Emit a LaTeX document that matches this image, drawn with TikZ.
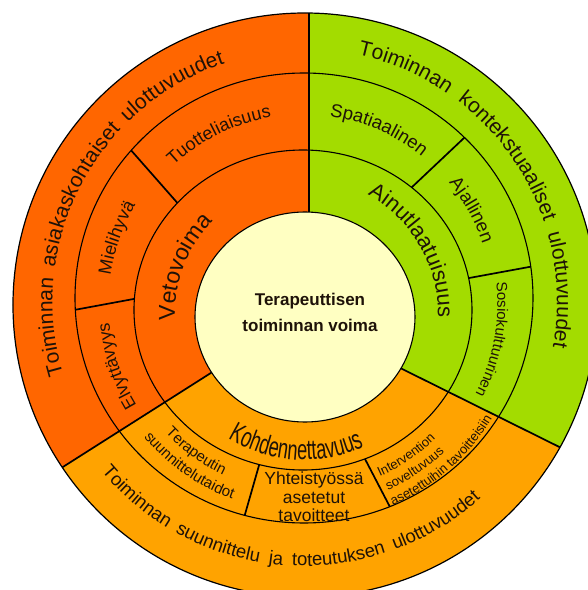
\documentclass[tikz,border=0pt]{standalone}
\usepackage{fontspec}
\setmainfont{Liberation Sans}
\newfontfamily\narrowsans[FakeStretch=0.65]{Liberation Sans}
\usetikzlibrary{calc,decorations.text}
\definecolor{vetoorange}{HTML}{FF6600}
\definecolor{kontgreen}{HTML}{A3DC00}
\definecolor{kohdamber}{HTML}{FFA300}
\definecolor{corecream}{HTML}{FFFFC2}
\definecolor{ink}{HTML}{1E1208}
\tikzset{
  x=1pt,y=1pt,
  rim/.style={draw=black,line width=1.2pt},
  ring/.style={draw=black,line width=1.1pt},
  divider/.style={draw=black,line width=1.7pt},
  corelbl/.style={font=\bfseries\fontsize{17}{26}\selectfont,align=center,text=ink},
  boxlbl/.style={font=\fontsize{17.5}{18.5}\selectfont,align=center,text=ink},
}
% curved labels: centre, baseline radius, angle(s), size, text
\newcommand{\cwlabel}[5]{%
  \path[decorate,decoration={text along path,text align=center,text color=ink,
      text={|\fontsize{#4}{#4}\selectfont|#5}}]
    (#1) ++(#3+50:#2pt) arc[start angle=#3+50,end angle=#3-50,radius=#2pt];}
\newcommand{\ccwlabel}[5]{%
  \path[decorate,decoration={text along path,text align=center,text color=ink,
      text={|\fontsize{#4}{#4}\selectfont|#5}}]
    (#1) ++(#3-50:#2pt) arc[start angle=#3-50,end angle=#3+50,radius=#2pt];}
\newcommand{\ccwleft}[5]{%
  \path[decorate,decoration={text along path,text color=ink,
      text={|\fontsize{#4}{#4}\selectfont|#5}}]
    (#1) ++(#3:#2pt) arc[start angle=#3,end angle=#3+60,radius=#2pt];}
\newcommand{\fitlabel}[6]{%
  \path[decorate,decoration={text along path,text align={fit to path stretching spaces},
      text color=ink,text={|\fontsize{#5}{#5}\selectfont|#6}}]
    (#1) ++(#3:#2pt) arc[start angle=#3,end angle=#4,radius=#2pt];}

\begin{document}
\begin{tikzpicture}
  \useasboundingbox (-300,-289) rectangle (288,301);
  \coordinate (rimc) at (5,-4);
  \coordinate (ringA) at (4,3);
  \coordinate (ringB) at (3,-9);
  \coordinate (corec) at (5,-16);
  \coordinate (tcout) at (4,-1);
  \coordinate (tcmid) at (3,-3);
  \coordinate (tcin) at (4,-12);
  % main dividers, inner ends hidden under the core
  \coordinate (topin) at (9,80);
  \coordinate (topout) at (9,330);
  \coordinate (leftin) at (-75,-63);
  \coordinate (leftout) at (-330,-225);
  \coordinate (rightin) at (72,-53);
  \coordinate (rightout) at (340,-186);

  \begin{scope}
    \clip (rimc) circle[radius=292pt];
    \fill[kohdamber] (rimc) circle[radius=292pt];
    \fill[vetoorange] (topout) -- (topin) -- (leftin) -- (leftout) -- (-330,330) -- cycle;
    \fill[kontgreen] (topout) -- (topin) -- (rightin) -- (rightout) -- (340,330) -- cycle;
    \draw[divider] (topout) -- (topin);
    \draw[divider] (leftout) -- (leftin);
    \draw[divider] (rightout) -- (rightin);
  \end{scope}

  \draw[ring] (ringA) ellipse[x radius=229pt,y radius=225pt];
  \draw[ring] (ringB) ellipse[x radius=169pt,y radius=160pt];

  % sub-dimension dividers between the two rings
  \draw[divider] ($(ringA)+(139:229pt and 225pt)$) -- ($(ringB)+(138:169pt and 160pt)$);
  \draw[divider] ($(ringA)+(183:229pt and 225pt)$) -- ($(ringB)+(176:169pt and 160pt)$);
  \draw[divider] ($(ringA)+(45.5:229pt and 225pt)$) -- ($(ringB)+(50:169pt and 160pt)$);
  \draw[divider] ($(ringA)+(8:229pt and 225pt)$) -- ($(ringB)+(11.5:169pt and 160pt)$);
  \draw[divider] ($(ringA)+(255:229pt and 225pt)$) -- ($(ringB)+(255:169pt and 160pt)$);
  \draw[divider] ($(ringA)+(292:229pt and 225pt)$) -- ($(ringB)+(291.5:169pt and 160pt)$);

  \draw[ring,fill=corecream] (corec) ellipse[x radius=110pt,y radius=105pt];
  \draw[rim] (rimc) circle[radius=292pt];

  \node[corelbl] (core) at (10,-11) {Terapeuttisen\\toiminnan voima};

  % outer band
  \fitlabel{tcout}{251.5}{196.8}{108.4}{21}{Toiminnan asiakaskohtaiset ulottuvuudet}
  \fitlabel{tcout}{253}{77.7}{-10.2}{21}{Toiminnan kontekstuaaliset ulottuvuudet}
  \fitlabel{tcout}{264}{220}{312}{18.5}{Toiminnan suunnittelu ja toteutuksen ulottuvuudet}

  % middle band
  \cwlabel{tcmid}{189.5}{116.4}{18}{Tuotteliaisuus}
  \cwlabel{tcmid}{194.5}{160.5}{18}{Mielihyvä}
  \cwlabel{tcmid}{194.5}{198.4}{17.5}{Elvyttävyys}
  \cwlabel{tcmid}{189.5}{66.5}{18.5}{Spatiaalinen}
  \cwlabel{tcmid}{189.5}{29.1}{18.5}{Ajallinen}
  \cwlabel{tcmid}{194.5}{-10.6}{15}{Sosiokulttuurinen}
  \ccwlabel{tcmid}{188.5}{234}{15}{Terapeutin}
  \ccwlabel{tcmid}{207.5}{235}{15}{suunnittelutaidot}
  \node[boxlbl] (yhteis) at (14,-196) {Yhteistyössä\\asetetut\\tavoitteet};
  \ccwleft{tcmid}{189}{294}{13}{Intervention}
  \ccwleft{tcmid}{205}{294.5}{13}{soveltuvuus}
  \ccwleft{tcmid}{221}{294}{13}{asetettuihin tavoitteisiin}

  % inner band
  \cwlabel{tcin}{129}{159}{23}{Vetovoima}
  \cwlabel{tcin}{134}{29.8}{22}{Ainutlaatuisuus}
  \path[decorate,decoration={text along path,text align=center,text color=ink,
      text={|\narrowsans\fontsize{28}{28}\selectfont|Kohdennettavuus}}]
    (tcin) ++(216.5:147pt) arc[start angle=216.5,end angle=316.5,radius=147pt];
\end{tikzpicture}
\end{document}
